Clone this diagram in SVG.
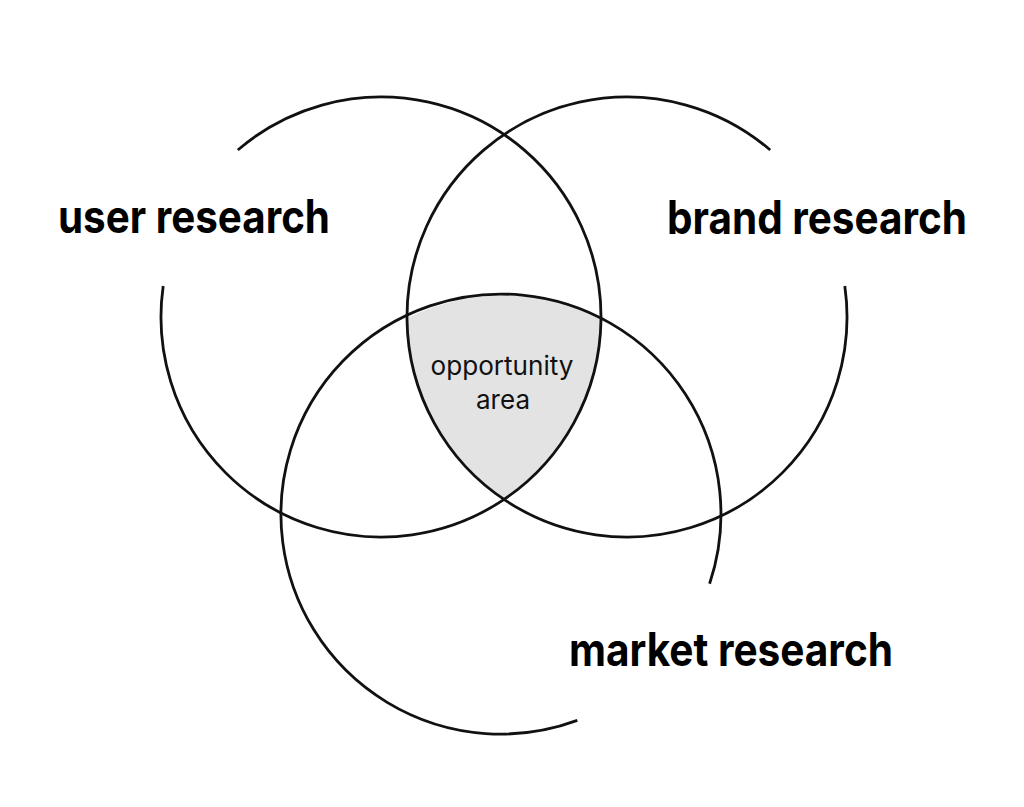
<svg xmlns="http://www.w3.org/2000/svg" width="1024" height="807" viewBox="0 0 1024 807">
<style>
.ring{fill:none;stroke:#111;stroke-width:2.8;stroke-linecap:butt}
.big{font-family:Inter,"Liberation Sans",Arial,sans-serif;font-weight:700;font-size:46px;fill:#000}
.small{font-family:Inter,"Liberation Sans",Arial,sans-serif;font-weight:400;font-size:26px;fill:#111}
</style>
<rect width="1024" height="807" fill="#fff"/>
<g id="opportunity">
<path d="M 407 318 A 220 220 0 0 1 601 318 A 220 220 0 0 1 504 499.4 A 220 220 0 0 1 407 318 Z" fill="#e3e3e3"/>
</g>
<g id="connectors">
<path class="ring" d="M 237.8 150 A 220 220 0 1 1 163.2 286"/>
<path class="ring" d="M 844.8 286 A 220 220 0 1 1 770.2 150"/>
<path class="ring" d="M 577.3 720.4 A 220 220 0 1 1 709.6 583.8"/>
</g>
<g id="user-research">
<text class="big" x="58" y="233" textLength="272" lengthAdjust="spacingAndGlyphs">user research</text>
</g>
<g id="brand-research">
<text class="big" x="667" y="234" textLength="300" lengthAdjust="spacingAndGlyphs">brand research</text>
</g>
<g id="market-research">
<text class="big" x="569" y="666" textLength="324" lengthAdjust="spacingAndGlyphs">market research</text>
</g>
<g id="opportunity-label">
<text class="small" x="502" y="375" text-anchor="middle" textLength="143" lengthAdjust="spacingAndGlyphs">opportunity</text>
<text class="small" x="503" y="409" text-anchor="middle" textLength="54" lengthAdjust="spacingAndGlyphs">area</text>
</g>
</svg>
